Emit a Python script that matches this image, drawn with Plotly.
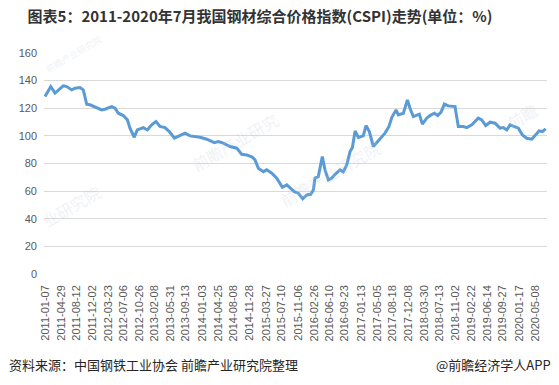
import plotly.graph_objects as go

# ---- data ----
dates = [
    "2011-01-07", "2011-02-16", "2011-03-18", "2011-05-14", "2011-06-07", "2011-07-12",
    "2011-08-04", "2011-09-07", "2011-09-30", "2011-10-24", "2011-11-16", "2011-12-21",
    "2012-02-05", "2012-02-28", "2012-04-15", "2012-05-08", "2012-05-31", "2012-07-05",
    "2012-08-02", "2012-08-20", "2012-09-19", "2012-10-10", "2012-11-21", "2012-12-19",
    "2013-01-18", "2013-02-17", "2013-03-17", "2013-04-21", "2013-05-21", "2013-06-25",
    "2013-07-22", "2013-09-07", "2013-10-12", "2013-11-16", "2013-12-20", "2014-02-05",
    "2014-03-30", "2014-04-27", "2014-05-31", "2014-07-17", "2014-09-02", "2014-10-06",
    "2014-11-10", "2014-12-19", "2015-01-07", "2015-01-30", "2015-03-06", "2015-03-29",
    "2015-05-03", "2015-06-07", "2015-07-16", "2015-08-16", "2015-10-07", "2015-11-04",
    "2015-12-05", "2016-01-02", "2016-01-29", "2016-02-17", "2016-02-28", "2016-03-22",
    "2016-04-19", "2016-05-08", "2016-05-31", "2016-06-24", "2016-07-17", "2016-08-20",
    "2016-09-12", "2016-10-06", "2016-10-29", "2016-11-14", "2016-12-03", "2016-12-26",
    "2017-01-29", "2017-02-17", "2017-03-12", "2017-04-09", "2017-05-07", "2017-05-30",
    "2017-06-29", "2017-07-27", "2017-08-15", "2017-09-14", "2017-09-30", "2017-11-04",
    "2017-12-02", "2017-12-20", "2018-01-12", "2018-02-23", "2018-03-16", "2018-04-15",
    "2018-05-08", "2018-06-07", "2018-07-01", "2018-07-24", "2018-08-16", "2018-09-13",
    "2018-10-29", "2018-11-21", "2018-12-26", "2019-01-19", "2019-02-23", "2019-04-09",
    "2019-05-03", "2019-05-31", "2019-06-30", "2019-08-04", "2019-09-07", "2019-09-30",
    "2019-10-24", "2019-11-16", "2019-12-21", "2020-01-13", "2020-02-10", "2020-03-11",
    "2020-04-15", "2020-05-13", "2020-06-05", "2020-06-28", "2020-07-21",
]
cspi = [
    128.5, 135.7, 131.0, 136.2, 135.7, 133.3,
    134.5, 135.0, 133.3, 123.0, 122.5, 120.8,
    118.8, 119.3, 121.2, 120.0, 116.4, 114.7,
    111.6, 105.6, 99.0, 104.3, 106.0, 104.3,
    108.0, 110.4, 106.8, 106.0, 103.1, 98.3,
    99.5, 102.0, 100.0, 99.5, 99.0, 97.6,
    95.1, 95.9, 94.7, 92.3, 91.1, 86.7,
    86.2, 84.6, 82.6, 76.6, 74.1, 75.4,
    73.0, 69.4, 62.8, 64.5, 59.6, 58.5,
    54.4, 57.2, 57.7, 60.9, 69.4, 70.5,
    85.0, 75.4, 68.1, 69.4, 72.2, 75.4,
    74.0, 79.0, 88.6, 91.5, 103.6, 98.8,
    100.0, 107.5, 103.1, 92.3, 95.9, 98.3,
    102.0, 106.8, 113.3, 118.8, 115.2, 116.4,
    126.1, 120.0, 114.0, 115.7, 108.5, 112.8,
    114.7, 116.4, 114.7, 117.2, 123.0, 121.7,
    121.2, 106.8, 106.8, 106.0, 108.0, 112.8,
    111.6, 107.5, 109.9, 109.2, 105.6, 106.0,
    104.3, 108.0, 106.8, 105.6, 100.7, 98.3,
    97.6, 101.2, 103.6, 103.1, 105.1,
]
tick_labels = [
    "2011-01-07", "2011-04-29", "2011-08-12", "2011-12-02", "2012-03-23", "2012-07-06",
    "2012-10-26", "2013-02-08", "2013-05-31", "2013-09-13", "2014-01-03", "2014-04-25",
    "2014-08-08", "2014-11-28", "2015-03-27", "2015-07-10", "2015-11-06", "2016-02-26",
    "2016-06-10", "2016-09-23", "2017-01-13", "2017-05-05", "2017-08-18", "2017-12-08",
    "2018-03-30", "2018-07-13", "2018-11-02", "2019-02-22", "2019-06-14", "2019-09-27",
    "2020-01-17", "2020-05-08",
]
y_ticks = [0, 20, 40, 60, 80, 100, 120, 140, 160]

title_text = "图表5：2011-2020年7月我国钢材综合价格指数(CSPI)走势(单位：%)"
source_text = "资料来源：中国钢铁工业协会 前瞻产业研究院整理"
brand_text = "@前瞻经济学人APP"

W, H = 559, 385
L, R, T, B = 44, 12, 53, 111
pw, ph = W - L - R, H - T - B


def px(x):
    return (x - L) / pw


def py(y):
    return (H - B - y) / ph


fig = go.Figure()
fig.add_trace(go.Scatter(
    x=dates, y=cspi, mode="lines",
    line=dict(color="#5B9BD5", width=3),
    hoverinfo="x+y", showlegend=False,
))

# faint watermarks
wm = [
    ("前瞻产业研究院", 40, 30, 9),
    ("前瞻产业研究", 235, 105, 16),
    ("业研究院", 35, 235, 16),
    ("前瞻产业研究院", 330, 215, 16),
    ("前瞻", 545, 95, 16),
]
for txt, x, y, s in wm:
    fig.add_annotation(
        text=txt, x=px(x), y=py(y), xref="paper", yref="paper",
        showarrow=False, textangle=-30,
        font=dict(size=s, family="Noto Sans CJK SC", color="rgba(190,200,215,0.25)"),
    )

fig.add_annotation(
    text=source_text, x=px(7), y=py(364), xref="paper", yref="paper",
    xanchor="left", yanchor="middle", showarrow=False,
    font=dict(size=13, family="Noto Sans CJK SC", color="#262626"),
)
fig.add_annotation(
    text=brand_text, x=px(553), y=py(364), xref="paper", yref="paper",
    xanchor="right", yanchor="middle", showarrow=False,
    font=dict(size=13, family="Noto Sans CJK SC", color="#262626"),
)

fig.update_layout(
    width=W, height=H,
    margin=dict(l=L, r=R, t=T, b=B),
    paper_bgcolor="white", plot_bgcolor="white",
    title=dict(
        text=title_text, x=260 / W, xref="container", xanchor="center",
        y=1 - 17 / H, yref="container", yanchor="middle",
        font=dict(size=15, family="Noto Sans CJK SC", color="#333333", weight="bold"),
    ),
    xaxis=dict(
        type="date",
        range=["2010-12-31", "2020-07-30"],
        tickmode="array", tickvals=tick_labels, ticktext=tick_labels,
        tickangle=-90, showgrid=False, zeroline=False, showline=False,
        ticks="", automargin=False, ticklabelstandoff=8,
        tickfont=dict(size=11, family="Liberation Sans", color="#595959"),
    ),
    yaxis=dict(
        range=[0, 160], tickmode="array", tickvals=y_ticks,
        showgrid=True, gridcolor="#D9D9D9", gridwidth=1,
        zeroline=False, showline=False, ticks="", automargin=False,
        ticklabelstandoff=6,
        tickfont=dict(size=11, family="Liberation Sans", color="#595959"),
    ),
)

fig.write_html(
    "out.html",
    config={"displayModeBar": False},
    post_script="document.body.style.margin='0';document.body.style.overflow='hidden';",
)
